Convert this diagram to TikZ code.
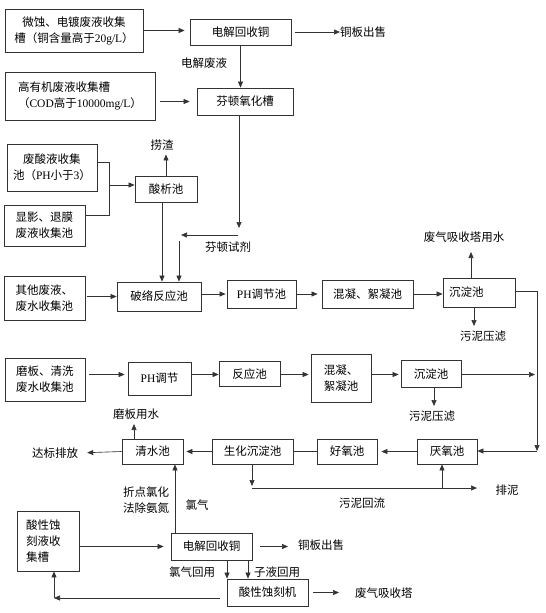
\documentclass[tikz,border=0pt]{standalone}
\usepackage{fontspec}
\setmainfont{Liberation Serif}
\newfontfamily\cjk{Noto Sans CJK SC}
\usetikzlibrary{arrows.meta}
\newcommand\myzh{\cjk\fontsize{11.5}{16}\selectfont}
\newcommand\latn[1]{{\rmfamily #1}}
\begin{document}
\begin{tikzpicture}[x=1pt,y=-1pt,
  box/.style={draw=black!80,line width=0.8pt,inner sep=2pt,font=\myzh,align=center},
  lbl/.style={inner sep=0pt,font=\myzh,align=center},
  arr/.style={draw=black!80,line width=0.65pt,-{Triangle[length=6pt,width=5pt]}},
  ln/.style={draw=black!80,line width=0.65pt}]
\useasboundingbox (0,0) rectangle (546,613);
% ---------- top area ----------
\node[box,minimum width=138,minimum height=43] (b1) at (74,30.5) {微蚀、电镀废液收集\\槽（铜含量高于\latn{20g/L}）};
\node[box,minimum width=101,minimum height=26] (e1) at (240.5,32) {电解回收铜};
\node[lbl,anchor=west] (t1) at (340,32) {铜板出售};
\node[lbl] (t2) at (204,63) {电解废液};
\node[box,align=left,minimum width=150,minimum height=48] (b2) at (80,96) {高有机废液收集槽\\（\latn{COD}高于\latn{10000mg/L}）};
\node[box,minimum width=96,minimum height=27] (f) at (245,101.5) {芬顿氧化槽};
\node[box,minimum width=90,minimum height=47] (b3) at (52,167.5) {废酸液收集\\池（\latn{PH}小于\latn{3}）};
\node[box,minimum width=81,minimum height=41] (b4) at (44.5,225.5) {显影、退膜\\废液收集池};
\node[box,minimum width=62,minimum height=26] (s) at (166,189) {酸析池};
\node[lbl] (t3) at (162,145) {捞渣};
\node[lbl] (t4) at (228,247) {芬顿试剂};
% ---------- row 1 ----------
\node[box,minimum width=81,minimum height=44] (b5) at (44.5,298) {其他废液、\\废水收集池};
\node[box,minimum width=84,minimum height=29] (p) at (159,296.5) {破络反应池};
\node[box,minimum width=69,minimum height=28] (ph1) at (261.5,294) {\latn{PH}调节池};
\node[box,minimum width=91,minimum height=28] (m1) at (367.5,294) {混凝、絮凝池};
\node[box,minimum width=72,minimum height=29,text width=60,align=left] (c1) at (479,292.5) {沉淀池};
\node[lbl] (t5) at (464,237) {废气吸收塔用水};
\node[lbl] (t6) at (483,336) {污泥压滤};
% ---------- row 2 ----------
\node[box,minimum width=80,minimum height=43] (b6) at (45,379.5) {磨板、清洗\\废水收集池};
\node[box,minimum width=63,minimum height=33] (ph2) at (159.5,378.5) {\latn{PH}调节};
\node[box,minimum width=61,minimum height=25.5] (r) at (249.5,374) {反应池};
\node[box,align=left,minimum width=60,minimum height=48] (m2) at (341,378) {混凝、\\絮凝池};
\node[box,minimum width=60,minimum height=26.5] (c2) at (431,374) {沉淀池};
\node[lbl] (t7) at (432,416.5) {污泥压滤};
% ---------- row 3 ----------
\node[box,minimum width=61,minimum height=25] (q) at (152.5,451.5) {清水池};
\node[box,minimum width=81,minimum height=25] (sh) at (252.5,451.5) {生化沉淀池};
\node[box,minimum width=60,minimum height=25] (h) at (347,451.5) {好氧池};
\node[box,minimum width=60,minimum height=25] (y) at (447,451.5) {厌氧池};
\node[lbl] (t8) at (55,453) {达标排放};
\node[lbl] (t9) at (136,414) {磨板用水};
\node[lbl] (t10) at (507,490) {排泥};
\node[lbl] (t11) at (362,503) {污泥回流};
% ---------- bottom ----------
\node[box,minimum width=62,minimum height=60,text width=44,align=left] (a) at (48,541) {酸性蚀\\刻液收\\集槽};
\node[box,minimum width=81,minimum height=27] (e2) at (211.5,546.5) {电解回收铜};
\node[lbl] (t12) at (146,500) {折点氯化\\法除氨氮};
\node[lbl] (t13) at (197,505) {氯气};
\node[lbl,anchor=west] (t14) at (298,545) {铜板出售};
\node[lbl] (t15) at (192,572) {氯气回用};
\node[lbl] (t16) at (277,572) {子液回用};
\node[box,minimum width=81,minimum height=27] (k) at (267.5,592.5) {酸性蚀刻机};
\node[lbl,anchor=west] (t17) at (355,593) {废气吸收塔};
% ---------- connectors: top ----------
\draw[arr,shorten >=5pt] (b1.east) -- (b1.east -| e1.west);
\draw[arr,shorten <=4pt] (e1.east) -- (t1.west);
\draw[arr] (e1.south) -- (e1.south |- f.north);
\draw[arr,shorten <=5pt,shorten >=7pt] (b2.east |- f.west) -- (f.west);
\coordinate (f1) at (239,228);
\draw[arr] (f.south -| f1) -- (f1);
\coordinate (f2) at (238,235);
\coordinate (f3) at (181,235);
\draw[arr] (f2) -- (f3);
\coordinate (f4) at (179,241);
\draw[arr] (f4) -- (f4 |- p.north);
\coordinate (j1) at (109,162);
\coordinate (j2) at (109,215);
\draw[ln] (b3.east |- j1) -- (j1) -- (j2) -- (b4.east |- j2);
\coordinate (j3) at (109,185);
\draw[arr] (j3) -- (j3 -| s.west);
\draw[arr,shorten >=4pt] (s.north) -- (s.north |- t3.south);
\coordinate (s1) at (162,0);
\draw[arr] (s.south -| s1) -- (p.north -| s1);
% ---------- row 1 ----------
\draw[arr,shorten <=2pt] (b5.east |- p.west) -- (p.west);
\draw[arr,shorten >=1pt] (p.east |- ph1.west) -- (ph1.west);
\draw[arr,shorten >=4pt] (ph1.east) -- (m1.west);
\draw[arr] (m1.east) -- (m1.east -| c1.west);
\coordinate (c1u) at (471,252);
\draw[arr] (c1.north -| c1u) -- (c1u);
\coordinate (c1d) at (474,326);
\draw[arr] (c1.south -| c1d) -- (c1d);
\coordinate (r1) at (537,291);
\coordinate (r2) at (537,451);
\draw[arr] (c1.east |- r1) -- (r1) -- (r2);
\draw[arr] (r2) -- (r2 -| y.east);
% ---------- row 2 ----------
\coordinate (row2) at (0,374.5);
\draw[arr,shorten <=4pt,shorten >=3pt] (b6.east |- row2) -- (ph2.west |- row2);
\draw[arr] (ph2.east |- row2) -- (r.west |- row2);
\draw[arr,shorten >=2pt] (r.east |- row2) -- (m2.west |- row2);
\draw[arr,shorten >=2pt] (m2.east |- row2) -- (c2.west |- row2);
\draw[arr,shorten >=2pt] (c2.east |- row2) -- (r1 |- row2);
\coordinate (c2d) at (434,406);
\draw[arr] (c2.south -| c2d) -- (c2d);
% ---------- row 3 ----------
\draw[arr,shorten >=4pt] (y.west) -- (h.east);
\draw[ln] (h.west) -- (sh.east);
\draw[arr,shorten >=3pt] (sh.west) -- (q.east);
\draw[arr,shorten >=9pt] (q.west) -- (t8.east);
\coordinate (qu) at (134,424);
\draw[arr] (q.north -| qu) -- (qu);
\coordinate (sd) at (252,486);
\draw[arr] (sh.south -| sd) -- (sd);
\coordinate (sl) at (252,488);
\coordinate (sr) at (477,488);
\draw[arr] (sl) -- (sr);
\coordinate (yu) at (442,488);
\draw[arr] (yu) -- (yu |- y.south);
% ---------- bottom ----------
\draw[arr,shorten >=7pt] (a.east |- e2.west) -- (e2.west);
\coordinate (eu) at (175,0);
\draw[arr] (e2.north -| eu) -- (q.south -| eu);
\draw[arr,shorten <=8pt,shorten >=10pt] (e2.east) -- (t14.west |- e2.east);
\coordinate (k1) at (227,0);
\coordinate (k2) at (248,0);
\draw[arr] (e2.south -| k1) -- (k.north -| k1);
\draw[arr] (e2.south -| k2) -- (k.north -| k2);
\draw[arr,shorten <=5pt,shorten >=16pt] (k.east) -- (t17.west |- k.east);
\coordinate (rb) at (54,598);
\draw[arr,shorten <=7pt] (k.west |- rb) -- (rb);
\draw[arr] (rb) -- (rb |- a.south);
\end{tikzpicture}
\end{document}
